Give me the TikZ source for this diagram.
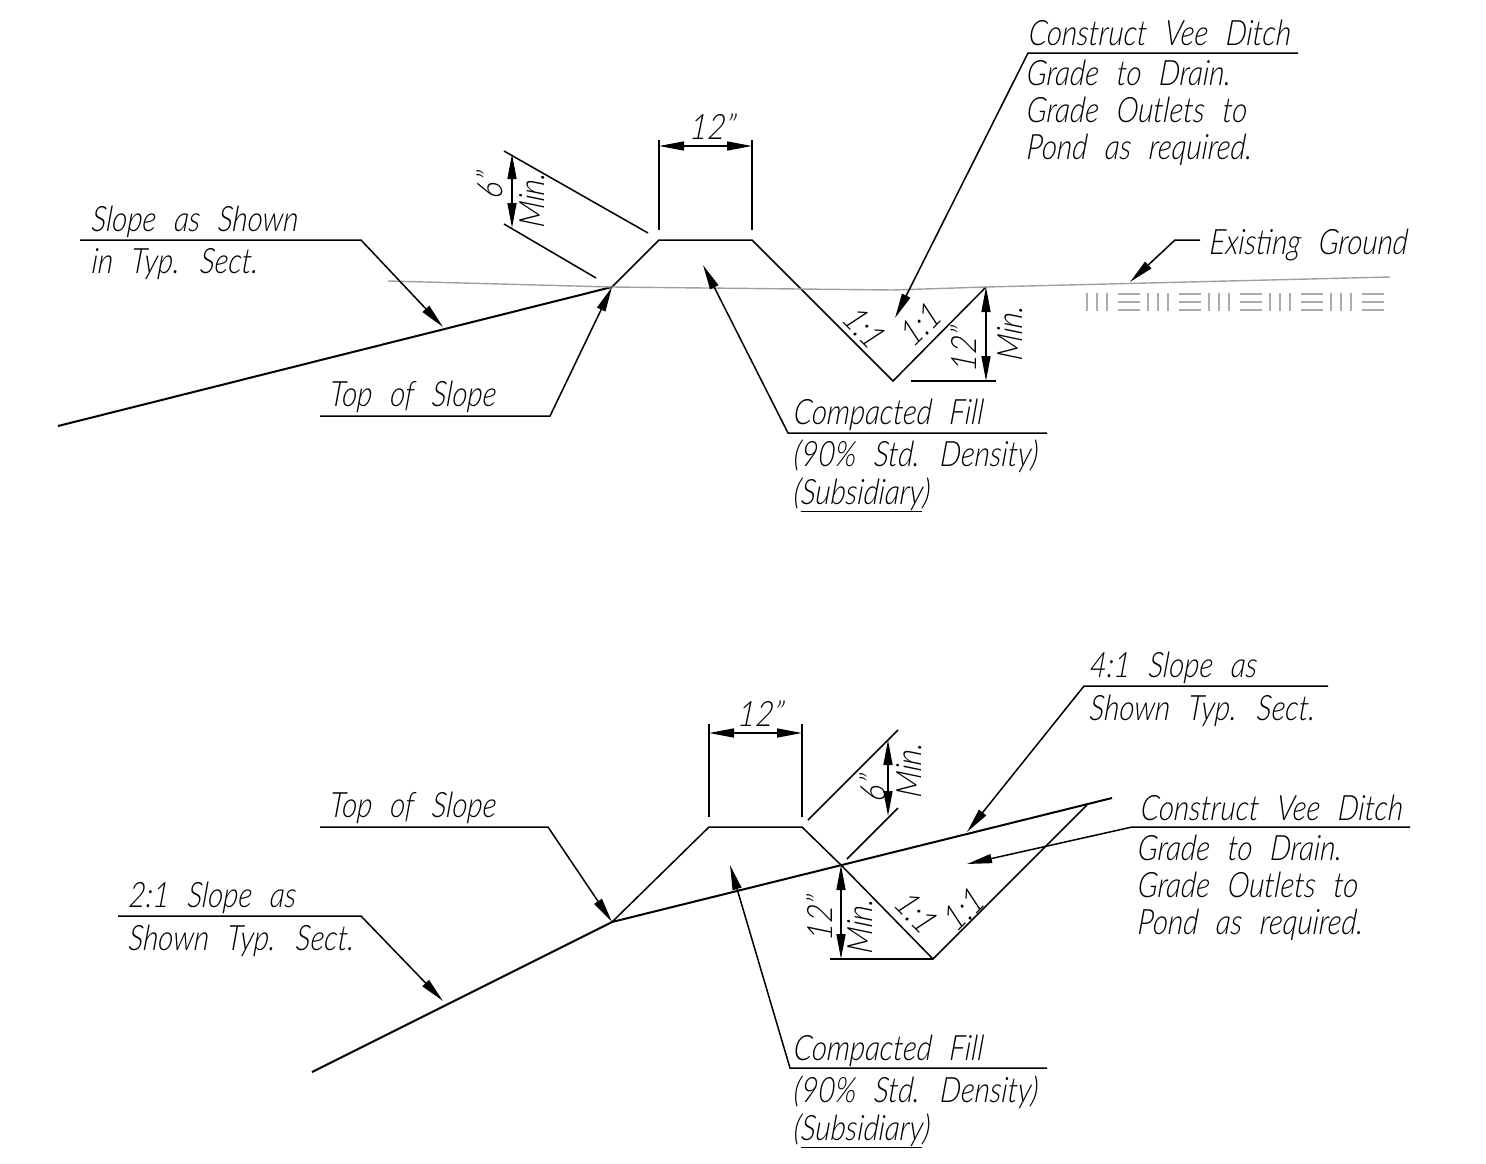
\documentclass[tikz,border=0pt]{standalone}
\usepackage{fontspec}
\setmainfont{Lato Light}[ItalicFont={Lato Light Italic},ItalicFeatures={FakeSlant=0.08},FakeStretch=0.84,WordSpace=2.4]
\newfontfamily\dimfont{Lato Light Italic}[FakeSlant=0.1,FakeStretch=0.88]
\usepackage{tikz}
\usetikzlibrary{positioning,arrows.meta}
\tikzset{x=1pt,y=-1pt,
  ln/.style={black,line width=1.5pt},
  slope/.style={black,line width=2pt,line join=miter},
  ground/.style={gray!75,line width=1.4pt},
  hatch/.style={gray!65,line width=1.2pt},
  tip/.style={-{Triangle[length=25pt,width=9pt]}},
  dim/.style={{Triangle[length=25pt,width=9pt]}-{Triangle[length=25pt,width=9pt]}},
  note/.style={inner sep=0pt,anchor=base west,font=\fontsize{35}{35}\selectfont\itshape},
  nextline/.style 2 args={below=#1 of #2.base west,anchor=base west},
  dimtext/.style={inner sep=0pt,font=\fontsize{35}{35}\dimfont}}

\begin{document}
\begin{tikzpicture}
  \useasboundingbox (0,0) rectangle (1486,1163);

  % upper section
  \coordinate (A1) at (58,426);
  \coordinate (A2) at (612,287);
  \coordinate (A3) at (659,240);
  \coordinate (A4) at (752,240);
  \coordinate (A5) at (893,381);
  \coordinate (A6) at (986,287);
  \draw [slope] (A1) -- (A2);
  \draw [ln] (A2) -- (A3) -- (A4) -- (A5) -- (A6);
  \draw [ground] (388,281) -- (A2) -- (893,290) -- (A6) -- (1390,277);
  \foreach \i in {0,...,4} {
    \draw [hatch] (1087+61*\i,293) -- +(0,18) (1097+61*\i,293) -- +(0,18) (1107+61*\i,293) -- +(0,18);
    \draw [hatch] (1118+61*\i,294) -- +(22,0) (1118+61*\i,302) -- +(22,0) (1118+61*\i,310) -- +(22,0);
  }

  \draw [ln] (659,230) -- (659,140);
  \draw [ln] (752,230) -- (752,140);
  \draw [ln,dim] (659,146) -- (752,146);
  \node (top12) [dimtext] at (712,127) {12”};
  \draw [ln] (504,151) -- (648,233);
  \draw [ln] (504,224) -- (596,278);
  \draw [ln,dim] (512,154) -- (512,228);
  \node (top6) [dimtext,rotate=90] at (490,186) {6”};
  \node (topmin) [dimtext,rotate=90] at (532,201) {Min.};
  \draw [ln] (911,381) -- (996,381);
  \draw [ln,dim] (A6) -- (986,381);
  \node (ditch12) [dimtext,rotate=90] at (964,350) {12”};
  \node (ditchmin) [dimtext,rotate=90] at (1010,334) {Min.};
  \node (cutl) [dimtext,rotate=-45] at (864,327) {1:1};
  \node (cutr) [dimtext,rotate=45] at (920,325) {1:1};

  \node (sl1) [note] at (91,231) {Slope as Shown};
  \node (sl2) [note,nextline={42pt}{sl1}] {in Typ. Sect.};
  \draw [ln,tip] (80,240) -- (361,240) -- (443,327);
  \node (tp1) [note] at (329,406) {Top of Slope};
  \draw [ln,tip] (320,416) -- (550,416) -- (A2);
  \node (cf1) [note] at (793,424) {Compacted Fill};
  \node (cf2) [note,nextline={42pt}{cf1}] {(90\% Std. Density)};
  \node (cf3) [note,nextline={38pt}{cf2}] {(\underline{Subsidiary})};
  \draw [ln,tip] (1047,433) -- (788,433) -- (703,265);
  \node (vd1) [note] at (1028,45) {Construct Vee Ditch};
  \node (vd2) [note] at (1026,85) {Grade to Drain.};
  \node (vd3) [note,nextline={37pt}{vd2}] {Grade Outlets to};
  \node (vd4) [note,nextline={37pt}{vd3}] {Pond as required.};
  \draw [ln,tip] (1298,53) -- (1028,53) -- (895,318);
  \node (eg1) [note] at (1209,254) {Existing Ground};
  \draw [ln,tip] (1200,240) -- (1175,240) -- (1130,282);

  % lower section
  \coordinate (B1) at (312,1072);
  \coordinate (B2) at (612,922);
  \coordinate (B3) at (709,827);
  \coordinate (B4) at (802,827);
  \coordinate (B5) at (841,865);
  \coordinate (B6) at (933,959);
  \coordinate (B7) at (1087,805);
  \coordinate (B8) at (1112,798);
  \draw [slope] (B1) -- (B2) -- (B8);
  \draw [ln] (B2) -- (B3) -- (B4) -- (B5) -- (B6) -- (B7);

  \draw [ln] (709,817) -- (709,724);
  \draw [ln] (802,817) -- (802,724);
  \draw [ln,dim] (709,733) -- (802,733);
  \node (low12) [dimtext] at (760,714) {12”};
  \draw [ln] (808,820) -- (898,730);
  \draw [ln] (847,859) -- (898,808);
  \draw [ln,dim] (888,740) -- (888,816);
  \node (low6) [dimtext,rotate=90] at (873,789) {6”};
  \node (lowmin) [dimtext,rotate=90] at (909,771) {Min.};
  \draw [ln] (830,959) -- (B6);
  \draw [ln,dim] (B5) -- (841,959);
  \node (fill12) [dimtext,rotate=90] at (820,919) {12”};
  \node (fillmin) [dimtext,rotate=90] at (860,927) {Min.};
  \node (bankl) [dimtext,rotate=-45] at (916,912) {1:1};
  \node (bankr) [dimtext,rotate=45] at (963,910) {1:1};

  \node (fo1) [note] at (1089,677) {4:1 Slope as};
  \node (fo2) [note,nextline={43pt}{fo1}] {Shown Typ. Sect.};
  \draw [ln,tip] (1328,686) -- (1084,686) -- (967,832);
  \node (wd1) [note] at (1140,820) {Construct Vee Ditch};
  \node (wd2) [note] at (1137,860) {Grade to Drain.};
  \node (wd3) [note,nextline={37pt}{wd2}] {Grade Outlets to};
  \node (wd4) [note,nextline={37pt}{wd3}] {Pond as required.};
  \draw [ln,tip] (1410,827) -- (1132,827) -- (967,864);
  \node (tq1) [note] at (329,817) {Top of Slope};
  \draw [ln,tip] (320,827) -- (548,827) -- (B2);
  \node (tw1) [note] at (128,907) {2:1 Slope as};
  \node (tw2) [note,nextline={43pt}{tw1}] {Shown Typ. Sect.};
  \draw [ln,tip] (118,916) -- (361,916) -- (443,1001);
  \node (cg1) [note] at (793,1060) {Compacted Fill};
  \node (cg2) [note,nextline={42pt}{cg1}] {(90\% Std. Density)};
  \node (cg3) [note,nextline={38pt}{cg2}] {(\underline{Subsidiary})};
  \draw [ln,tip] (1047,1068) -- (790,1068) -- (730,865);
\end{tikzpicture}
\end{document}
